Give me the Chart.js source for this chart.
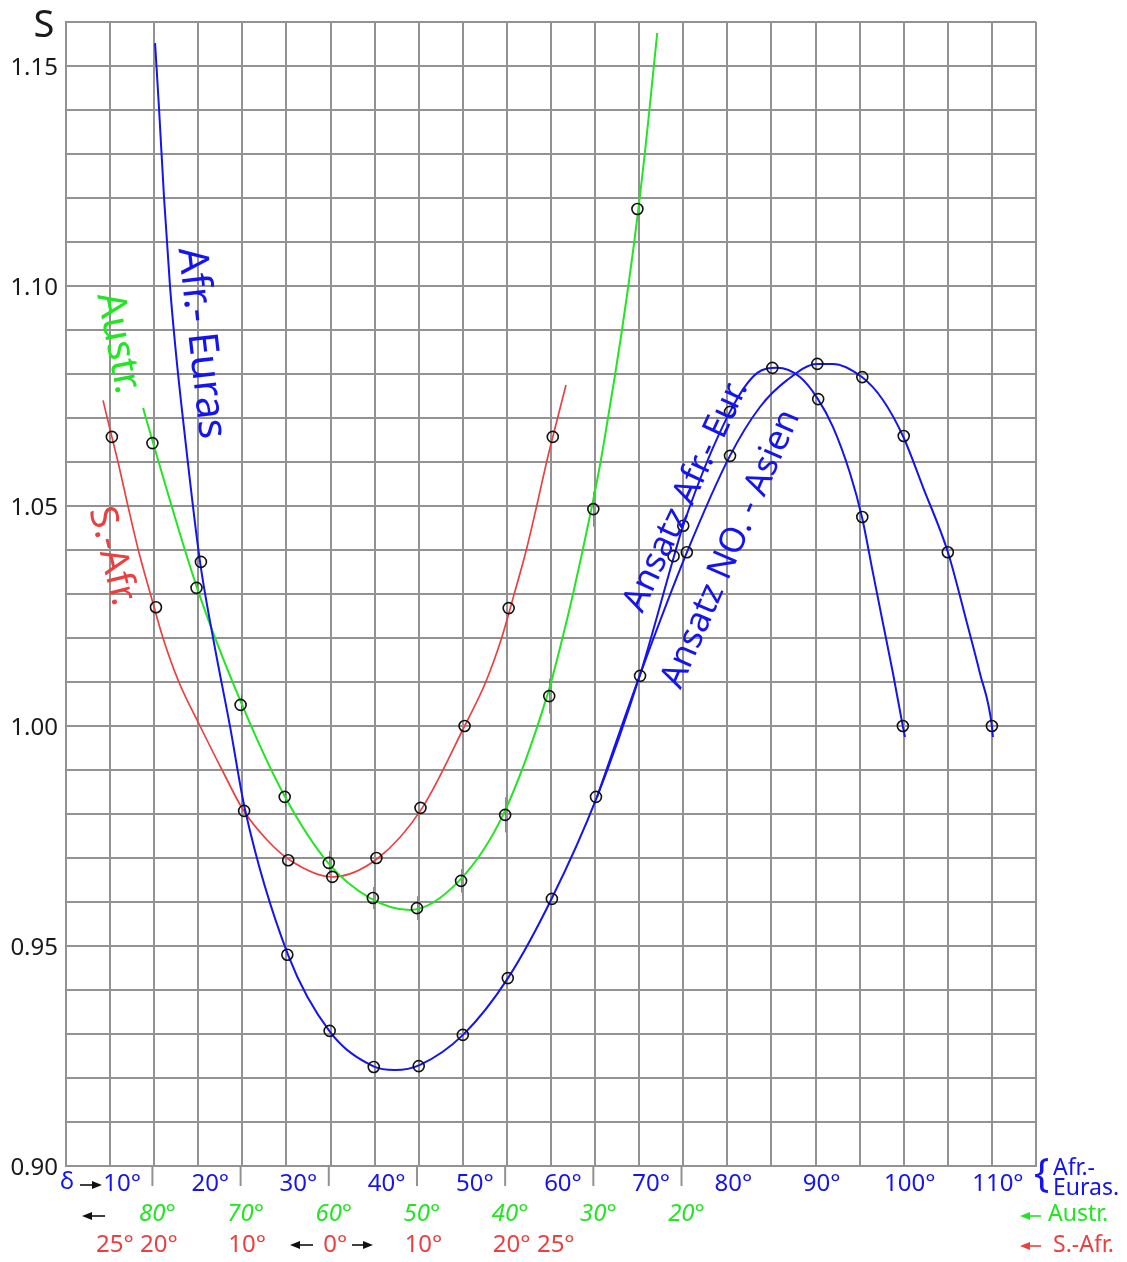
<!DOCTYPE html>
<html>
<head>
<meta charset="utf-8">
<title>S</title>
<script src="https://cdn.jsdelivr.net/npm/chart.js@4/dist/chart.umd.min.js"></script>
<style>
  body { margin: 0; background: #fff; }
  canvas { display: block; }
</style>
</head>
<body>
<canvas id="myChart" width="1127" height="1262"></canvas>
<script>
// Afr.-Euras: delta in degrees (bottom blue scale)
const eurasDelta = [20.3, 30.1, 34.9, 39.9, 45.0, 50.0, 55.1, 60.1, 65.1, 70.1];
const eurasS = [1.0373, 0.9480, 0.9307, 0.9225, 0.9227, 0.9298, 0.9427, 0.9607, 0.9839, 1.0114];
const afrEurDelta = [73.9, 75.0, 80.3, 85.1, 90.3, 95.3, 99.9];
const afrEurS = [1.0386, 1.0455, 1.0714, 1.0814, 1.0743, 1.0475, 1.0000];
const noAsienDelta = [75.4, 80.3, 90.2, 95.3, 100.0, 105.0, 110.0];
const noAsienS = [1.0395, 1.0614, 1.0823, 1.0793, 1.0659, 1.0395, 1.0000];

// Austr.: own scale, runs right to left
const austrDeg = [80, 75, 70, 65, 60, 55, 50, 45, 40, 35, 30, 25];
const austrS = [1.0643, 1.0314, 1.0048, 0.9839, 0.9689, 0.9609, 0.9586, 0.9648, 0.9798, 1.0068, 1.0493, 1.1175];
const austrErr = [0, 0.0015, 0.0023, 0.0023, 0.0027, 0.0025, 0.0027, 0.0027, 0.004, 0.004, 0.004, 0];

// S.-Afr.: own scale, 0 in the middle (negative = left)
const sAfrDeg = [-25, -20, -10, -5, 0, 5, 10, 15, 20, 25];
const sAfrS = [1.0657, 1.0270, 0.9807, 0.9695, 0.9657, 0.9700, 0.9814, 1.0000, 1.0268, 1.0657];

// fitted curves
const afrEurFitDelta = [15.1, 15.56, 16.12, 16.8, 17.48, 18.28, 20.2, 21.68, 23.61, 25.31, 30.18, 34.94, 39.82, 42.31, 45.15, 50.02, 55.12, 60.11, 65.22, 70.09,
  73.95, 74.97, 80.29, 83.36, 85.62, 88.23, 90.27, 91.97, 93.9, 95.26, 96.51, 97.64, 98.78, 99.91, 100.14];
const afrEurFitS = [1.1552, 1.1400, 1.1200, 1.0998, 1.0845, 1.0695, 1.0373, 1.0200, 0.9998, 0.9809, 0.9480, 0.9305, 0.9227, 0.9218, 0.9230, 0.9298, 0.9427, 0.9609, 0.9839, 1.0116,
  1.0386, 1.0455, 1.0714, 1.0802, 1.0814, 1.0793, 1.0743, 1.0680, 1.0575, 1.0475, 1.0348, 1.0234, 1.0120, 0.9998, 0.9975];
const noAsienFitDelta = [65.22, 70.09, 75.42, 80.29, 83.7, 86.76, 90.16, 91.97, 95.26, 97.64, 99.91, 102.18, 105.01, 107.17, 108.64, 110.0, 110.11];
const noAsienFitS = [0.9839, 1.0116, 1.0395, 1.0614, 1.0725, 1.0786, 1.0823, 1.0823, 1.0793, 1.0741, 1.0659, 1.0543, 1.0395, 1.0234, 1.0120, 1.0000, 0.9975];
const austrFitDeg = [81.06, 79.92, 74.94, 69.83, 64.96, 60.08, 55.32, 50.79, 45.23, 40.24, 35.25, 33.5, 32.3, 31.2, 30.15, 29.18, 28.34, 27.52, 26.75, 26.03, 25.36, 24.74, 24.17, 23.64, 23.14, 22.75];
const austrFitS = [1.0723, 1.0643, 1.0314, 1.0048, 0.9839, 0.9689, 0.9609, 0.9582, 0.9648, 0.9798, 1.0068, 1.0200, 1.0300, 1.0400, 1.0500, 1.0600, 1.0700, 1.0800, 1.0900, 1.1000, 1.1100, 1.1200, 1.1300, 1.1400, 1.1500, 1.1575];
const sAfrFitDeg = [-26.0, -25.0, -24.3, -23.2, -22.0, -20.6, -19.2, -17.4, -15.0, -12.5, -10.1, -7.4, -4.8, 0, 5.2, 10.2, 15.0, 17.4, 19.2, 20.6, 22.0, 23.2, 24.3, 25.0, 26.5];
const sAfrFitS = [1.0740, 1.0657, 1.0600, 1.0502, 1.0400, 1.0298, 1.0200, 1.0100, 1.0000, 0.9900, 0.9809, 0.9741, 0.9695, 0.9657, 0.9700, 0.9814, 1.0000, 1.0100, 1.0200, 1.0298, 1.0400, 1.0502, 1.0600, 1.0657, 1.0775];

// tick labels
const deltaTicks = [10, 20, 30, 40, 50, 60, 70, 80, 90, 100, 110];
const austrTicks = [80, 70, 60, 50, 40, 30, 20];
const sAfrTicks = [-25, -20, -10, 0, 10, 20, 25];
const sTicks = [1.15, 1.10, 1.05, 1.00, 0.95, 0.90];

// the other two scales expressed on the delta axis
const austrToDelta = g => 94.8 - g;
const sAfrToDelta = r => 35.2 + r;

const BLUE = '#1414f0';
const GREEN = '#22e622';
const RED = '#ec4040';
const FONT = '"Noto Sans", "Open Sans", sans-serif';
const DEG = Math.PI / 180;

function pts(xs, ys, fx) {
    return xs.map((x, i) => ({ x: fx ? fx(x) : x, y: ys[i] }));
}

function marks(xs, ys, fx) {
    return {
        data: pts(xs, ys, fx),
        showLine: false,
        pointRadius: 5.5,
        pointBorderWidth: 1.6,
        pointBorderColor: '#111',
        pointBackgroundColor: 'rgba(0,0,0,0)'
    };
}

function curve(xs, ys, color, fx, width) {
    return {
        data: pts(xs, ys, fx),
        showLine: true,
        borderColor: color,
        borderWidth: width || 2,
        pointRadius: 0,
        cubicInterpolationMode: 'monotone'
    };
}

function arrow(ctx, x1, x2, y, color) {
    const dir = x2 > x1 ? 1 : -1;
    ctx.save();
    ctx.strokeStyle = color;
    ctx.fillStyle = color;
    ctx.lineWidth = 1.6;
    ctx.beginPath();
    ctx.moveTo(x1, y);
    ctx.lineTo(x2 - dir * 6, y);
    ctx.stroke();
    ctx.beginPath();
    ctx.moveTo(x2, y);
    ctx.lineTo(x2 - dir * 10, y - 4);
    ctx.lineTo(x2 - dir * 10, y + 4);
    ctx.closePath();
    ctx.fill();
    ctx.restore();
}

function rotated(ctx, text, x, y, angle, color, size) {
    ctx.save();
    ctx.translate(x, y);
    ctx.rotate(angle);
    ctx.fillStyle = color;
    ctx.font = size + 'px ' + FONT;
    ctx.textAlign = 'center';
    ctx.textBaseline = 'middle';
    ctx.fillText(text, 0, 0);
    ctx.restore();
}

// error bars, axis labels and curve names
const annotations = {
    id: 'annotations',
    beforeDatasetsDraw(chart) {
        const ctx = chart.ctx;
        const xs = chart.scales.x, ys = chart.scales.y;
        ctx.save();
        ctx.strokeStyle = 'rgba(90,90,90,0.7)';
        ctx.lineWidth = 1;
        austrDeg.forEach((g, i) => {
            if (!austrErr[i]) return;
            const px = Math.round(xs.getPixelForValue(austrToDelta(g))) + 0.5;
            ctx.beginPath();
            ctx.moveTo(px, ys.getPixelForValue(austrS[i] + austrErr[i]));
            ctx.lineTo(px, ys.getPixelForValue(austrS[i] - austrErr[i]));
            ctx.stroke();
        });
        ctx.restore();
    },
    afterDraw(chart) {
        const ctx = chart.ctx;
        const xs = chart.scales.x, ys = chart.scales.y;
        const bottom = chart.chartArea.bottom;
        ctx.save();

        // Austr. ticks below the axis
        ctx.strokeStyle = '#929292';
        ctx.lineWidth = 2;
        austrTicks.forEach(g => {
            const px = xs.getPixelForValue(austrToDelta(g));
            ctx.beginPath();
            ctx.moveTo(px, bottom);
            ctx.lineTo(px, bottom + 20);
            ctx.stroke();
        });

        ctx.textBaseline = 'middle';

        // S axis
        ctx.fillStyle = '#1a1a1a';
        ctx.font = '24px ' + FONT;
        ctx.textAlign = 'right';
        sTicks.forEach(v => ctx.fillText(v.toFixed(2), 58, ys.getPixelForValue(v) + 2));
        ctx.font = '38px ' + FONT;
        ctx.textAlign = 'center';
        ctx.fillText('S', 44, 26);

        // delta row
        ctx.font = '24px ' + FONT;
        ctx.fillStyle = BLUE;
        deltaTicks.forEach(v => {
            ctx.fillText(v + '°', xs.getPixelForValue(v) + (v < 80 ? 12 : 6), 1184);
        });
        ctx.fillText('δ', 67, 1182);
        arrow(ctx, 80, 102, 1185, '#111');

        // Austr. row
        ctx.font = 'italic 24px ' + FONT;
        ctx.fillStyle = GREEN;
        austrTicks.forEach(g => {
            ctx.fillText(g + '°', xs.getPixelForValue(austrToDelta(g)) + 5, 1214);
        });
        arrow(ctx, 105, 82, 1216, '#111');

        // S.-Afr. row
        ctx.font = '24px ' + FONT;
        ctx.fillStyle = RED;
        sAfrTicks.forEach(r => {
            ctx.fillText(Math.abs(r) + '°', xs.getPixelForValue(sAfrToDelta(r)) + 3, 1245);
        });
        arrow(ctx, 313, 290, 1245, '#111');
        arrow(ctx, 352, 373, 1245, '#111');

        // scale names on the right
        ctx.textAlign = 'left';
        ctx.fillStyle = BLUE;
        ctx.font = '40px ' + FONT;
        ctx.fillText('{', 1034, 1176);
        ctx.font = '23px ' + FONT;
        ctx.fillText('Afr.-', 1053, 1168);
        ctx.fillText('Euras.', 1053, 1188);
        ctx.fillStyle = GREEN;
        ctx.fillText('Austr.', 1048, 1214);
        arrow(ctx, 1041, 1020, 1216, GREEN);
        ctx.fillStyle = RED;
        ctx.fillText('S.-Afr.', 1053, 1245);
        arrow(ctx, 1041, 1020, 1246, RED);

        // curve names, set along their curves
        rotated(ctx, 'Afr.- Euras', 201, 343, 83.5 * DEG, BLUE, 41);
        rotated(ctx, 'Austr.', 118, 343, 79 * DEG, GREEN, 39);
        rotated(ctx, 'S.-Afr.', 112, 556, 76 * DEG, RED, 38);
        rotated(ctx, 'Ansatz Afr.- Eur.', 686, 496, -65.1 * DEG, BLUE, 35);
        rotated(ctx, 'Ansatz NO. - Asien', 731, 549, -66.5 * DEG, BLUE, 35);

        ctx.restore();
    }
};

const ctx = document.getElementById('myChart').getContext('2d');
const chart = new Chart(ctx, {
    type: 'scatter',
    data: {
        datasets: [
            marks(eurasDelta, eurasS),
            marks(afrEurDelta, afrEurS),
            marks(noAsienDelta, noAsienS),
            marks(austrDeg, austrS, austrToDelta),
            marks(sAfrDeg, sAfrS, sAfrToDelta),
            curve(afrEurFitDelta, afrEurFitS, BLUE),
            curve(noAsienFitDelta, noAsienFitS, BLUE),
            curve(austrFitDeg, austrFitS, GREEN, austrToDelta),
            curve(sAfrFitDeg, sAfrFitS, RED, sAfrToDelta, 1.7)
        ]
    },
    options: {
        responsive: false,
        animation: false,
        layout: { padding: { left: 66, right: 91, top: 22, bottom: 96 } },
        plugins: { legend: { display: false }, tooltip: { enabled: false } },
        scales: {
            x: {
                type: 'linear', min: 5, max: 115,
                ticks: { display: false, stepSize: 5 },
                grid: { color: '#929292', lineWidth: 2, drawTicks: false },
                border: { color: '#929292', width: 2 }
            },
            y: {
                type: 'linear', min: 0.9, max: 1.16,
                ticks: { display: false, stepSize: 0.01 },
                grid: { color: '#929292', lineWidth: 2, drawTicks: false },
                border: { color: '#929292', width: 2 }
            }
        }
    },
    plugins: [annotations]
});
</script>
</body>
</html>
